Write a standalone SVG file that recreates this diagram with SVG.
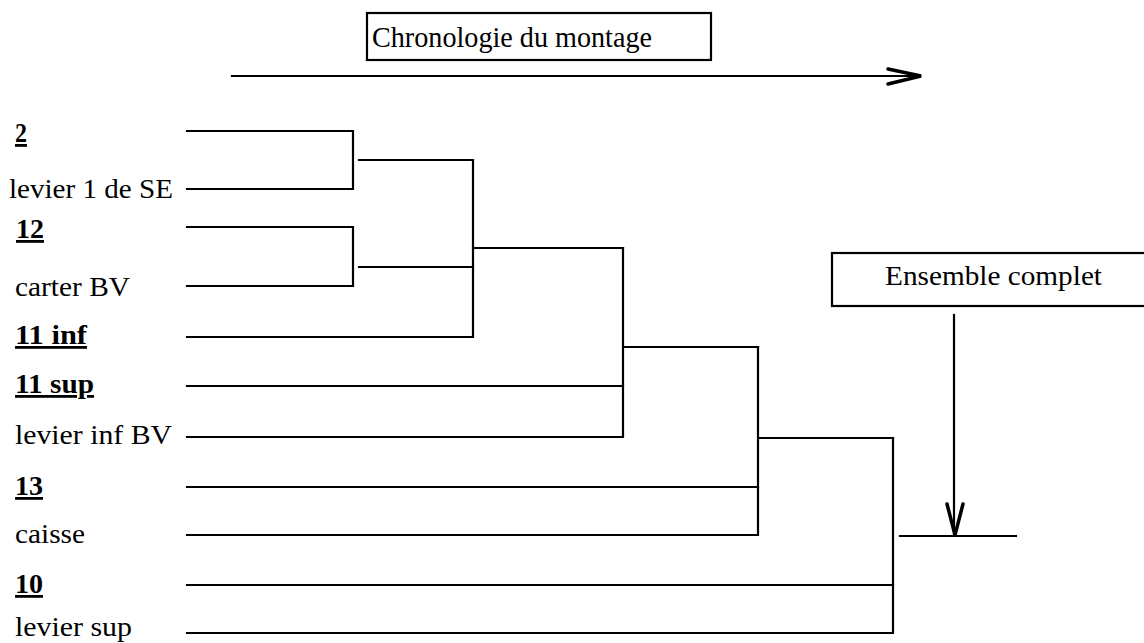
<svg xmlns="http://www.w3.org/2000/svg" width="1144" height="643" viewBox="0 0 1144 643">
<style>
text{font-family:"Liberation Serif","Times New Roman",serif;fill:#000}
.lbl{font-size:28px}
.num{font-size:28px;font-weight:bold;text-decoration:underline}
.ln{fill:none;stroke:#000;stroke-width:2.2;stroke-linejoin:miter;stroke-linecap:square}
.box{fill:#fff;stroke:#000;stroke-width:2.2}
.head{fill:none;stroke:#000;stroke-width:3.5;stroke-linejoin:miter;stroke-linecap:round}
</style>
<rect width="1144" height="643" fill="#fff"/>
<g id="title">
<rect class="box" x="367" y="13" width="344" height="47"/>
<text x="372" y="47" style="font-size:29px" textLength="280" lengthAdjust="spacingAndGlyphs">Chronologie du montage</text>
</g>
<g id="timeline">
<line class="ln" x1="232" y1="76" x2="920" y2="76" stroke-width="2.6"/>
<polyline class="head" points="888,69 921,76 888,84"/>
</g>
<g id="labels">
<g id="n2"><text class="num" x="15" y="142" textLength="12" lengthAdjust="spacingAndGlyphs">2</text></g>
<g id="n-levier1SE"><text class="lbl" x="9" y="198" textLength="164" lengthAdjust="spacingAndGlyphs">levier 1 de SE</text></g>
<g id="n12"><text class="num" x="16" y="238" textLength="28" lengthAdjust="spacingAndGlyphs">12</text></g>
<g id="n-carterBV"><text class="lbl" x="15" y="296" textLength="115" lengthAdjust="spacingAndGlyphs">carter BV</text></g>
<g id="n11inf"><text class="num" x="15" y="344" textLength="72" lengthAdjust="spacingAndGlyphs">11 inf</text></g>
<g id="n11sup"><text class="num" x="15" y="393" textLength="79" lengthAdjust="spacingAndGlyphs">11 sup</text></g>
<g id="n-levierinfBV"><text class="lbl" x="15" y="444" textLength="157" lengthAdjust="spacingAndGlyphs">levier inf BV</text></g>
<g id="n13"><text class="num" x="15" y="495" textLength="28" lengthAdjust="spacingAndGlyphs">13</text></g>
<g id="n-caisse"><text class="lbl" x="15" y="543" textLength="70" lengthAdjust="spacingAndGlyphs">caisse</text></g>
<g id="n10"><text class="num" x="15" y="593" textLength="28" lengthAdjust="spacingAndGlyphs">10</text></g>
<g id="n-leviersup"><text class="lbl" x="15" y="636" textLength="117" lengthAdjust="spacingAndGlyphs">levier sup</text></g>
</g>
<g id="ensemble">
<rect class="box" x="832" y="253" width="330" height="53"/>
<text x="885" y="285" style="font-size:28px" textLength="217" lengthAdjust="spacingAndGlyphs">Ensemble complet</text>
</g>
<g id="connectors">
<path class="ln" d="M187,131 H353 V189 H187"/>
<path class="ln" d="M359,160 H473"/>
<path class="ln" d="M187,227 H353 V286 H187"/>
<path class="ln" d="M359,267 H473"/>
<path class="ln" d="M187,337 H473 V160"/>
<path class="ln" d="M473,248 H623"/>
<path class="ln" d="M187,386 H623"/>
<path class="ln" d="M187,437 H623 V248"/>
<path class="ln" d="M624,347 H758"/>
<path class="ln" d="M187,487 H758"/>
<path class="ln" d="M187,535 H758 V347"/>
<path class="ln" d="M760,438 H893"/>
<path class="ln" d="M187,585 H893"/>
<path class="ln" d="M187,633 H893 V438"/>
<path class="ln" d="M900,536 H1016"/>
<path class="ln" d="M954,315 V534" stroke-width="2.6"/>
<polyline class="head" points="947,504 955,535 963,504"/>
</g>
</svg>
